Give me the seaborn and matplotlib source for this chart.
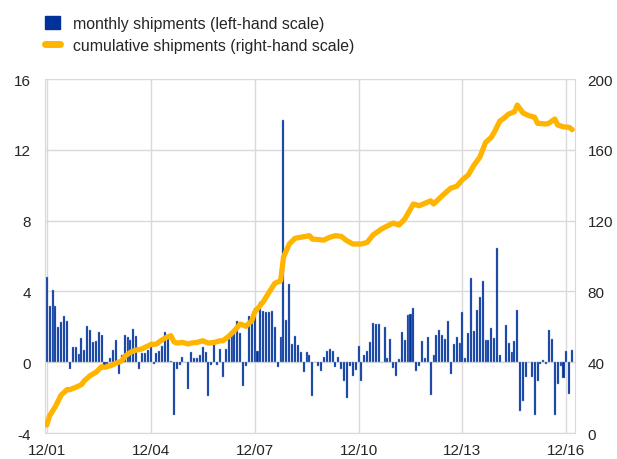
import numpy as np
import pandas as pd
import matplotlib
matplotlib.use("Agg")
import matplotlib.pyplot as plt
from matplotlib.patches import Patch
from matplotlib.lines import Line2D
import seaborn as sns

# monthly shipments, Dec 2001 .. Feb 2017 (left-hand scale)
monthly = [
    4.8, 3.15, 4.1, 3.2, 2.0, 2.3, 2.6, 2.35, -0.38, 0.85,
    0.85, 0.47, 1.37, 0.7, 2.07, 1.83, 1.13, 1.22, 1.73, 1.54,
    -0.3, -0.1, 0.22, 0.7, 1.26, -0.66, 0.43, 1.56, 1.4, 1.26,
    1.88, 1.47, -0.41, 0.53, 0.53, 0.7, 1.17, -0.1, 0.5, 0.66,
    0.9, 1.7, 1.41, 0.05, -2.97, -0.41, -0.15, 0.28, 0.0, -1.5,
    0.56, 0.22, 0.22, 0.38, 0.85, 0.56, -1.92, -0.15, 1.04, -0.15,
    0.75, -0.85, 0.72, 1.32, 1.5, 1.85, 2.32, 1.66, -1.32, -0.23,
    2.6, 2.34, 3.05, 0.62, 3.4, 2.92, 2.82, 2.82, 2.88, 1.98,
    -0.28, 1.41, 13.7, 2.41, 4.43, 1.04, 1.47, 0.96, 0.56, -0.56,
    0.6, 0.41, -1.92, 0.04, -0.19, -0.5, 0.32, 0.64, 0.77, 0.64,
    -0.28, 0.28, -0.38, -1.04, -2.03, -0.21, -0.79, -0.42, 0.94, -1.04,
    0.38, 0.66, 1.13, 2.2, 2.17, 2.17, 0.0, 1.98, 0.23, 1.32,
    -0.3, -0.8, 0.19, 1.73, 1.28, 2.66, 2.71, 3.07, -0.51, -0.19,
    1.19, 0.24, 1.41, -1.88, 0.38, 1.56, 1.83, 1.56, 1.32, 2.35,
    -0.66, 1.02, 1.41, 1.07, 2.82, 0.23, 1.64, 4.75, 1.75, 2.96,
    3.67, 4.58, 1.26, 1.26, 1.94, 1.37, 6.44, 0.41, 0.0, 2.11,
    1.11, 0.55, 1.22, 2.96, -2.77, -2.17, -0.85, 0.0, -0.85, -2.98,
    -1.04, -0.09, 0.15, -0.09, 1.83, 1.32, -2.96, -1.22, -0.19, -0.89,
    0.66, -1.79, 0.7,
]
months = list(range(len(monthly)))  # 0 = Dec 2001

# cumulative shipments (right-hand scale)
cum_month = [0, 1, 3, 4, 5, 7, 8, 10, 12, 13, 15, 17, 19, 20, 22, 24, 26, 27, 29, 31,
             33, 34, 36, 38, 39, 41, 43, 44, 45, 47, 49, 50, 52, 54, 56, 58, 60, 61, 63, 65,
             67, 69, 71, 72, 75, 77, 79, 81, 82, 84, 86, 88, 91, 92, 96, 98, 100, 102, 104, 106,
             109, 111, 113, 116, 117, 120, 122, 124, 127, 129, 133, 134, 137, 140, 142, 144, 146, 148, 150, 152,
             154, 155, 157, 158, 160, 162, 163, 165, 167, 169, 170, 173, 174, 176, 177, 179, 181, 182]
cum_value = [4.5, 9.8, 15, 18.3, 21.5, 24.5, 24.5, 25.8, 27.3, 29.5, 32.4, 34.3, 37.5, 37.1, 38, 39.4, 40.8, 43.3, 45.6, 46.9,
             47.5, 48.4, 49.9, 50.3, 51.6, 53.7, 55, 51.6, 50.8, 51.2, 50.3, 50.8, 51.2, 52.1, 50.8, 51.2, 52.1, 52.1, 54.6, 57.8,
             61.6, 60.3, 63.4, 68.2, 74.2, 79.5, 84.6, 86, 99.3, 106.8, 110, 110.6, 111.5, 109.6, 109, 110.6, 111.5, 111.1, 108.6, 106.8,
             106.8, 107.7, 111.9, 115.3, 116.2, 118.6, 117.5, 120.9, 129.4, 128.4, 131.2, 129.4, 134.1, 138.4, 139.4, 143.1, 145.8, 151.4, 155.8, 164.2,
             167.1, 169.9, 176.4, 177.4, 180.2, 181.5, 185.3, 180.8, 179.3, 178.4, 175, 174.6, 175.1, 177.4, 174, 173, 172.7, 171.4]

tick_pos = [0, 36, 72, 108, 144, 180]
tick_labels = ["12/01", "12/04", "12/07", "12/10", "12/13", "12/16"]

blue = "#003299"
yellow = "#ffb400"
grid = "#d9d9d9"

sns.set_style("white")
plt.rcParams["font.family"] = ["Liberation Sans", "DejaVu Sans"]
plt.rcParams["axes.unicode_minus"] = False

fig = plt.figure(figsize=(6.17, 4.6), dpi=100)
ax = fig.add_axes([0.073, 0.0565, 0.859, 0.7695])

bars = pd.DataFrame({"month": months, "value": monthly})
sns.barplot(data=bars, x="month", y="value", native_scale=True, color=blue,
            saturation=1, width=0.7, edgecolor="#8fa6d6", linewidth=0.3, ax=ax)

ax.set_xlim(-0.6, 183)
ax.set_ylim(-4, 16)
ax.set_yticks(np.arange(-4, 17, 4))
ax.set_xticks(tick_pos)
ax.set_xticklabels(tick_labels)
ax.set_xlabel("")
ax.set_ylabel("")
ax.grid(True, color=grid, lw=1)
ax.set_axisbelow(True)
for s in ax.spines.values():
    s.set_color(grid)
ax.spines["top"].set_visible(False)
ax.tick_params(length=0, labelsize=11, pad=10)
ax.tick_params(axis="x", pad=7)

ax2 = ax.twinx()
line = pd.DataFrame({"month": cum_month, "value": cum_value})
sns.lineplot(data=line, x="month", y="value", color=yellow, lw=3.8, ax=ax2)
ax2.set_ylim(0, 200)
ax2.set_yticks(np.arange(0, 201, 40))
ax2.set_ylabel("")
ax2.set_xlim(-0.6, 183)
ax2.tick_params(length=0, labelsize=11, pad=9)
for s in ax2.spines.values():
    s.set_visible(False)

handles = [Patch(facecolor=blue, edgecolor=blue),
           Line2D([], [], color=yellow, lw=5)]
fig.legend(handles, ["monthly shipments (left-hand scale)",
                     "cumulative shipments (right-hand scale)"],
           loc="upper left", bbox_to_anchor=(0.06, 0.98), frameon=False,
           fontsize=11.4, handlelength=0.95, handleheight=0.89, handletextpad=0.8,
           labelspacing=0.45, borderpad=0)

fig.savefig("out.png", dpi=100)
